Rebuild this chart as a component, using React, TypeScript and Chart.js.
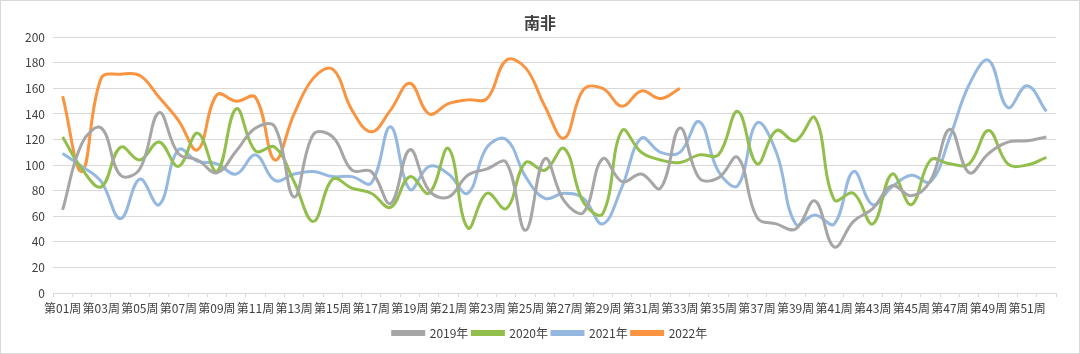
import React, { useEffect, useRef } from "react";
import { Chart, registerables } from "chart.js";

Chart.register(...registerables);

const weeks: string[] = Array.from({ length: 52 }, (_, i) => `第${String(i + 1).padStart(2, "0")}周`);

const series2019: number[] = [65, 117, 129, 92, 97, 141, 109, 104, 94, 111, 129, 130, 75, 124, 122, 96, 95, 70, 112, 80, 75, 92, 97, 102, 49, 105, 72, 63, 105, 87, 93, 82, 129, 90, 90, 106, 59, 54, 50, 72, 36, 56, 66, 84, 76, 88, 128, 94, 109, 118, 119, 122];
const series2020: number[] = [122, 97, 83, 114, 104, 118, 99, 125, 95, 144, 111, 114, 87, 56, 89, 82, 78, 67, 91, 78, 113, 51, 78, 66, 102, 96, 113, 71, 62, 127, 110, 104, 102, 108, 108, 142, 101, 127, 119, 137, 73, 78, 54, 93, 69, 104, 101, 101, 127, 101, 100, 106];
const series2021: number[] = [109, 99, 87, 58, 89, 69, 112, 103, 101, 93, 108, 88, 93, 95, 91, 91, 86, 130, 81, 99, 93, 78, 114, 120, 91, 74, 78, 74, 54, 83, 121, 110, 110, 134, 95, 84, 133, 110, 54, 61, 54, 95, 69, 83, 92, 87, 122, 163, 182, 145, 162, 142];
const series2022: number[] = [154, 95, 168, 171, 170, 153, 135, 112, 155, 150, 153, 104, 140, 168, 175, 143, 126, 143, 164, 140, 148, 151, 152, 182, 176, 146, 121, 159, 160, 146, 158, 152, 160];

const seriesNames: string[] = ["2019年", "2020年", "2021年", "2022年"];
const seriesColors: string[] = ["#A6A6A6", "#92BE4C", "#95B8E0", "#FA9440"];
const yTicks = { min: 0, max: 200, step: 20 };
const titleText = "南非";

const FONT = '"Noto Sans CJK SC", "Noto Sans", sans-serif';

export default function App() {
  const canvasRef = useRef<HTMLCanvasElement | null>(null);

  useEffect(() => {
    document.body.style.margin = "0";
    const canvas = canvasRef.current;
    if (!canvas) return;
    const values = [series2019, series2020, series2021, series2022];
    const frame = {
      id: "frame",
      afterLayout(chart: any) {
        if (chart.legend) {
          chart.legend.left += 22;
          chart.legend.right += 22;
        }
        if (chart.titleBlock) {
          chart.titleBlock.left += 12;
          chart.titleBlock.right += 12;
        }
      },
      afterDraw(chart: any) {
        const ctx = chart.ctx;
        ctx.save();
        ctx.strokeStyle = "#D9D9D9";
        ctx.lineWidth = 1;
        ctx.strokeRect(0.5, 0.5, chart.width - 1, chart.height - 1);
        ctx.restore();
      },
    };
    const chart = new Chart(canvas, {
      type: "line",
      data: {
        labels: weeks,
        datasets: values.map((v, i) => ({
          label: seriesNames[i],
          data: v,
          borderColor: seriesColors[i],
          backgroundColor: seriesColors[i],
          borderWidth: 3,
          pointRadius: 0,
          tension: 0.4,
          fill: false,
        })),
      },
      options: {
        animation: false,
        responsive: false,
        maintainAspectRatio: false,
        layout: { padding: { left: 0, right: 24, top: 0, bottom: 5 } },
        plugins: {
          title: {
            display: true,
            text: titleText,
            color: "#404040",
            font: { family: FONT, size: 16, weight: "bold" },
            padding: { top: 13, bottom: 5 },
          },
          legend: {
            position: "bottom",
            labels: {
              boxWidth: 31,
              boxHeight: 3,
              padding: 4,
              color: "#404040",
              font: { family: FONT, size: 12 },
            },
          },
          tooltip: { enabled: false },
        },
        scales: {
          x: {
            offset: true,
            grid: {
              offset: true,
              drawOnChartArea: false,
              drawTicks: true,
              tickLength: 4,
              color: "#D9D9D9",
            },
            border: { display: true, color: "#D9D9D9" },
            ticks: {
              autoSkip: false,
              maxRotation: 0,
              minRotation: 0,
              padding: 4,
              color: "#404040",
              font: { family: FONT, size: 12 },
              callback: (_v: any, i: number) => (i % 2 === 0 ? weeks[i] : ""),
            },
            afterFit: (scale: any) => {
              scale.height = 30;
            },
          },
          y: {
            min: yTicks.min,
            max: yTicks.max,
            grid: { color: "#D9D9D9", drawTicks: false },
            border: { display: false },
            ticks: {
              stepSize: yTicks.step,
              padding: 8,
              color: "#404040",
              font: { family: FONT, size: 12 },
            },
            afterFit: (scale: any) => {
              scale.width = 53;
            },
          },
        },
      },
      plugins: [frame],
    });
    return () => chart.destroy();
  }, []);

  return (
    <div style={{ position: "absolute", left: 0, top: 0, width: 1080, height: 354, background: "#fff" }}>
      <canvas ref={canvasRef} width={1080} height={354} style={{ display: "block", width: 1080, height: 354 }} />
    </div>
  );
}
